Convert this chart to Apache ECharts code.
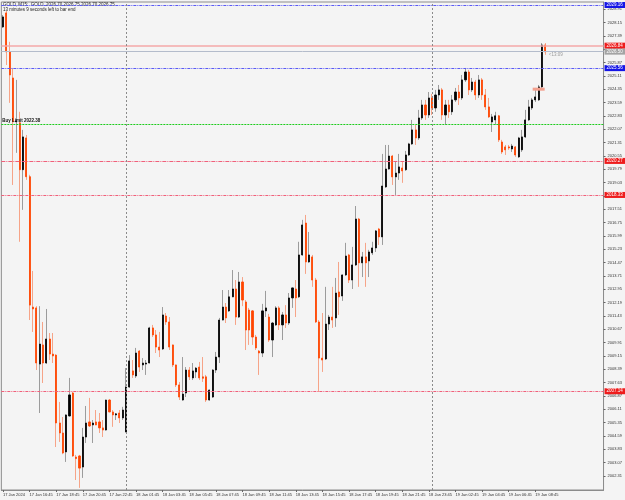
<!DOCTYPE html>
<html>
<head>
<meta charset="utf-8">
<script src="https://cdn.jsdelivr.net/npm/echarts@6/dist/echarts.min.js"></script>
<style>
html, body { margin: 0; padding: 0; background: #f4f4f4; }
#chart { width: 625px; height: 500px; }
</style>
</head>
<body>
<div id="chart"></div>
<script>
// GOLD M15, 17 Jan 14:45 .. 19 Jan 09:15
const opens = [
    2027.91, 2028.71, 2026.49, 2025.00, 2022.50, 2022.44, 2019.77, 2021.58, 2019.37, 2011.94,
    2011.89, 2008.69, 2009.78, 2008.75, 2010.12, 2009.26, 2009.20, 2005.33, 2004.76, 2003.68,
    2005.73, 2007.04, 2003.39, 2003.45, 2002.82, 2004.53, 2005.39, 2005.22, 2005.39, 2005.39,
    2005.05, 2004.93, 2006.64, 2005.96, 2005.79, 2005.90, 2005.62, 2004.82, 2007.38, 2008.30,
    2008.01, 2009.43, 2008.64, 2008.69, 2008.75, 2010.75, 2010.35, 2009.66, 2009.55, 2011.43,
    2011.09, 2009.78, 2008.64, 2007.50, 2006.64, 2007.04, 2008.35, 2007.90, 2008.24, 2008.52,
    2007.96, 2007.96, 2006.64, 2006.81, 2008.35, 2009.09, 2011.20, 2011.94, 2011.72, 2012.52,
    2012.97, 2011.37, 2013.37, 2012.23, 2011.77, 2011.72, 2010.23, 2009.43, 2009.32, 2011.72,
    2011.37, 2010.06, 2010.92, 2011.89, 2010.92, 2011.49, 2011.03, 2012.46, 2012.97, 2012.52,
    2014.91, 2016.73, 2014.51, 2014.80, 2013.48, 2011.09, 2009.03, 2008.98, 2010.97, 2011.37,
    2011.32, 2012.80, 2012.57, 2013.77, 2014.91, 2013.48, 2014.34, 2016.96, 2014.46, 2014.80,
    2014.57, 2015.03, 2015.31, 2016.39, 2015.94, 2018.79, 2019.81, 2020.55, 2019.36, 2019.58,
    2019.87, 2019.77, 2020.61, 2021.24, 2022.04, 2021.58, 2022.72, 2023.46, 2022.89, 2023.86,
    2023.29, 2024.03, 2024.32, 2022.89, 2023.46, 2023.07, 2023.75, 2024.20, 2023.86, 2024.89,
    2025.34, 2024.32, 2024.77, 2024.03, 2024.89, 2024.03, 2023.35, 2022.49, 2022.61, 2022.84,
    2021.35, 2021.07, 2021.07, 2020.95, 2021.07, 2020.50, 2020.90, 2021.64, 2022.61, 2023.29,
    2023.75, 2023.75, 2024.49, 2026.88
];
const closes = [
    2028.48, 2026.49, 2025.17, 2022.50, 2022.55, 2019.77, 2021.64, 2019.37, 2012.05, 2011.83,
    2008.75, 2009.83, 2008.75, 2010.12, 2009.26, 2009.15, 2005.33, 2004.76, 2003.62, 2005.79,
    2006.93, 2003.45, 2003.30, 2002.76, 2004.53, 2005.33, 2005.16, 2005.33, 2005.22, 2005.05,
    2004.93, 2006.64, 2005.96, 2005.79, 2005.85, 2005.62, 2006.07, 2007.38, 2008.87, 2008.07,
    2009.32, 2008.52, 2008.75, 2008.75, 2010.75, 2010.35, 2009.66, 2009.49, 2011.49, 2011.09,
    2009.66, 2008.64, 2007.50, 2006.81, 2006.98, 2008.35, 2007.96, 2008.30, 2008.46, 2007.90,
    2007.88, 2006.64, 2007.21, 2008.35, 2009.09, 2011.20, 2011.94, 2011.32, 2012.52, 2012.97,
    2011.37, 2013.37, 2012.34, 2010.63, 2010.63, 2010.23, 2009.61, 2009.32, 2011.72, 2011.89,
    2010.06, 2011.03, 2011.89, 2010.92, 2011.49, 2011.03, 2012.46, 2013.03, 2012.46, 2014.91,
    2016.62, 2014.51, 2014.91, 2013.48, 2011.09, 2009.03, 2008.92, 2010.97, 2011.37, 2011.20,
    2012.74, 2012.52, 2013.77, 2014.85, 2013.48, 2014.34, 2016.96, 2014.46, 2014.80, 2014.46,
    2015.08, 2015.31, 2016.28, 2015.94, 2018.84, 2019.81, 2020.55, 2019.36, 2019.58, 2019.93,
    2019.70, 2020.61, 2021.24, 2022.04, 2021.58, 2022.72, 2023.46, 2022.89, 2023.86, 2023.29,
    2024.03, 2024.32, 2022.89, 2023.46, 2023.07, 2023.75, 2024.20, 2023.86, 2024.89, 2025.34,
    2024.32, 2024.77, 2024.03, 2024.89, 2024.03, 2023.35, 2022.78, 2022.78, 2022.84, 2021.47,
    2020.78, 2020.90, 2021.01, 2021.12, 2020.61, 2021.58, 2021.64, 2022.61, 2023.35, 2023.75,
    2023.92, 2024.49, 2026.88, 2026.49
];
const lows = [
    2027.85, 2025.74, 2023.58, 2018.90, 2020.73, 2015.66, 2017.48, 2019.19, 2011.20, 2010.52,
    2008.35, 2005.90, 2007.61, 2008.70, 2008.92, 2008.75, 2003.96, 2004.25, 2003.55, 2003.11,
    2005.70, 2003.40, 2002.08, 2001.63, 2002.20, 2004.19, 2005.10, 2004.19, 2005.20, 2004.76,
    2004.53, 2004.90, 2005.94, 2005.11, 2005.50, 2005.33, 2005.50, 2004.80, 2007.33, 2007.90,
    2007.90, 2008.24, 2008.35, 2008.07, 2008.72, 2010.23, 2009.32, 2009.09, 2009.49, 2010.92,
    2009.49, 2008.52, 2007.38, 2006.64, 2006.60, 2006.81, 2007.78, 2007.78, 2007.90, 2007.78,
    2007.67, 2006.53, 2006.60, 2006.76, 2008.18, 2008.75, 2011.18, 2011.03, 2011.66, 2012.50,
    2010.92, 2011.32, 2011.99, 2009.49, 2009.78, 2009.78, 2009.49, 2008.07, 2009.09, 2011.37,
    2009.95, 2009.09, 2010.86, 2010.63, 2010.06, 2010.75, 2010.92, 2011.89, 2011.37, 2012.46,
    2014.86, 2013.83, 2014.46, 2013.09, 2011.03, 2007.10, 2008.24, 2008.92, 2010.63, 2010.75,
    2010.81, 2011.49, 2012.29, 2013.71, 2013.31, 2012.97, 2014.28, 2013.09, 2013.65, 2013.09,
    2013.65, 2014.91, 2015.08, 2015.48, 2015.48, 2018.73, 2019.77, 2018.90, 2018.33, 2019.19,
    2019.02, 2019.70, 2020.55, 2021.18, 2021.18, 2021.47, 2022.61, 2022.61, 2022.72, 2022.89,
    2023.07, 2023.75, 2022.61, 2022.32, 2022.72, 2022.89, 2023.63, 2023.46, 2023.75, 2024.77,
    2024.03, 2024.20, 2023.75, 2023.86, 2023.75, 2023.18, 2022.72, 2021.92, 2022.32, 2021.35,
    2020.67, 2020.61, 2020.90, 2020.78, 2020.50, 2020.44, 2020.78, 2021.58, 2022.55, 2023.18,
    2023.63, 2023.69, 2024.43, 2026.32
];
const highs = [
    2028.59, 2028.82, 2027.06, 2025.57, 2024.89, 2023.07, 2022.04, 2021.75, 2019.48, 2014.00,
    2011.99, 2011.99, 2011.09, 2011.83, 2010.46, 2010.46, 2009.25, 2006.53, 2005.67, 2005.82,
    2007.90, 2007.10, 2003.51, 2003.51, 2005.05, 2006.30, 2006.76, 2005.50, 2006.07, 2005.90,
    2005.50, 2006.66, 2006.70, 2006.07, 2005.90, 2006.07, 2006.25, 2008.46, 2009.20, 2008.92,
    2009.61, 2009.49, 2009.03, 2008.92, 2010.81, 2010.92, 2010.63, 2010.52, 2011.94, 2011.60,
    2011.37, 2009.80, 2008.66, 2007.67, 2009.09, 2008.52, 2008.52, 2008.75, 2008.52, 2008.81,
    2009.09, 2008.07, 2007.24, 2008.40, 2009.38, 2011.32, 2012.91, 2012.17, 2012.91, 2014.05,
    2013.48, 2013.94, 2013.65, 2012.34, 2011.89, 2011.77, 2010.35, 2009.49, 2012.12, 2012.86,
    2011.55, 2011.09, 2011.99, 2011.99, 2011.66, 2012.05, 2012.74, 2013.05, 2013.48, 2015.66,
    2016.91, 2017.19, 2016.22, 2014.91, 2013.60, 2011.20, 2011.60, 2013.09, 2011.49, 2013.09,
    2013.60, 2014.51, 2013.80, 2015.60, 2014.97, 2015.37, 2017.70, 2017.02, 2015.08, 2015.60,
    2015.20, 2015.66, 2016.33, 2016.45, 2020.67, 2021.18, 2021.18, 2020.61, 2020.21, 2020.67,
    2020.21, 2020.84, 2021.30, 2022.61, 2022.32, 2023.18, 2023.75, 2023.75, 2024.20, 2024.09,
    2024.32, 2024.60, 2024.43, 2023.75, 2023.75, 2024.03, 2024.43, 2024.60, 2025.17, 2025.57,
    2025.46, 2025.00, 2024.89, 2025.17, 2025.00, 2024.37, 2023.86, 2022.95, 2023.07, 2022.89,
    2021.47, 2021.18, 2021.18, 2021.24, 2021.12, 2021.64, 2022.04, 2023.18, 2023.75, 2023.86,
    2024.43, 2024.60, 2026.99, 2026.99
];

// labels under the time axis, one every 8 bars
const timeLabels = [
    "17 Jan 2024", "17 Jan 16:45", "17 Jan 18:45", "17 Jan 20:45", "17 Jan 22:45",
    "18 Jan 01:45", "18 Jan 03:45", "18 Jan 05:45", "18 Jan 07:45", "18 Jan 09:45",
    "18 Jan 11:45", "18 Jan 13:45", "18 Jan 15:45", "18 Jan 17:45", "18 Jan 19:45",
    "18 Jan 21:45", "18 Jan 23:45", "19 Jan 02:45", "19 Jan 04:45", "19 Jan 06:45",
    "19 Jan 08:45"
];

// price scale labels on the right
const priceTicks = [
    2002.31, 2003.07, 2003.83, 2004.59, 2005.35, 2006.11, 2006.87, 2007.63, 2008.39, 2009.15,
    2009.91, 2010.67, 2011.43, 2012.19, 2012.95, 2013.71, 2014.47, 2015.23, 2015.99, 2016.75,
    2017.51, 2018.27, 2019.03, 2019.79, 2020.55, 2021.31, 2022.07, 2022.83, 2023.59, 2024.35,
    2025.11, 2025.87, 2026.63, 2027.39, 2028.15, 2028.91
];

// horizontal levels drawn on the chart
const askPrice = 2026.84;
const bidPrice = 2026.50;
const blueLevels = [2029.16, 2025.56];
const buyLimit = 2022.38;
const stopLoss = 2020.27;
const redLevels = [2018.33, 2007.14];
const daySeparators = [37, 129];   // first bar of 18 Jan and 19 Jan
const orderBar = 161;
const orderPrice = 2024.36;

const totalSlots = 181;  // bars + empty chart shift on the right
const categories = [];
for (let i = 0; i < totalSlots; i++) {
    categories.push(i % 8 === 0 && i / 8 < timeLabels.length ? timeLabels[i / 8] : "");
}

const candles = opens.map((o, i) => [o, closes[i], lows[i], highs[i]]);
const bodies = opens.map((o, i) => [o, closes[i], Math.min(o, closes[i]), Math.max(o, closes[i])]);

const fontFam = "Liberation Sans, Arial, sans-serif";
const redLine = "#f0607a";

const levelLabel = (bg, text) => ({
    show: true,
    position: "end",
    distance: 1,
    formatter: text,
    color: "#fff",
    fontSize: 4.5,
    fontFamily: fontFam,
    backgroundColor: bg,
    padding: [1, 3, 0, 2]
});

const chart = echarts.init(document.getElementById("chart"));

chart.setOption({
    backgroundColor: "#f4f4f4",
    animation: false,
    grid: {
        left: 1,
        right: 21,
        top: 2,
        bottom: 10,
        show: true,
        borderColor: "#8c8c8c",
        borderWidth: 1
    },
    graphic: [
        {
            type: "text",
            left: 3,
            top: 2,
            style: {
                text: "GOLD, M15:  GOLD  2026.70 2026.75 2026.70 2026.75",
                fontSize: 4.5,
                fontFamily: fontFam,
                fill: "#222"
            }
        },
        {
            type: "text",
            left: 3,
            top: 7,
            style: {
                text: "13 minutes 9 seconds left to bar end",
                fontSize: 4.5,
                fontFamily: fontFam,
                fill: "#222"
            }
        }
    ],
    xAxis: {
        type: "category",
        data: categories,
        boundaryGap: true,
        axisLine: { show: true, lineStyle: { color: "#8c8c8c" } },
        axisTick: {
            show: true,
            alignWithLabel: true,
            length: 2,
            interval: i => i % 8 === 0 && i <= 160,
            lineStyle: { color: "#666" }
        },
        axisLabel: {
            show: true,
            interval: i => i % 8 === 0 && i <= 160,
            align: "left",
            margin: 3,
            fontSize: 4,
            fontFamily: fontFam,
            color: "#333"
        },
        splitLine: { show: false }
    },
    yAxis: {
        type: "value",
        position: "right",
        min: 2001.51,
        max: 2029.33,
        scale: true,
        axisLine: { show: true, lineStyle: { color: "#8c8c8c" } },
        axisTick: {
            show: true,
            length: 2,
            customValues: priceTicks,
            lineStyle: { color: "#666" }
        },
        axisLabel: {
            show: true,
            customValues: priceTicks,
            margin: 4,
            fontSize: 4,
            fontFamily: fontFam,
            color: "#333",
            formatter: v => v.toFixed(2)
        },
        splitLine: { show: false }
    },
    series: [
        {
            // price levels and day separators
            type: "line",
            data: [],
            silent: true,
            markLine: {
                symbol: "none",
                silent: true,
                data: [
                    {
                        yAxis: blueLevels[0],
                        lineStyle: { color: "#5a5af5", type: [3, 1, 1, 1], width: 1 },
                        label: levelLabel("#1515e6", blueLevels[0].toFixed(2))
                    },
                    {
                        yAxis: blueLevels[1],
                        lineStyle: { color: "#5a5af5", type: [3, 1, 1, 1], width: 1 },
                        label: levelLabel("#1515e6", blueLevels[1].toFixed(2))
                    },
                    {
                        yAxis: askPrice,
                        lineStyle: { color: "#f4a8a8", type: "solid", width: 1.5 },
                        label: levelLabel("#ee1c1c", askPrice.toFixed(2))
                    },
                    {
                        yAxis: bidPrice,
                        lineStyle: { color: "#b4bccb", type: "solid", width: 1 },
                        label: levelLabel("#a4a4a4", bidPrice.toFixed(2))
                    },
                    {
                        yAxis: buyLimit,
                        lineStyle: { color: "#1ecb1e", type: [2, 1], width: 1 },
                        label: {
                            show: true,
                            position: "insideStartTop",
                            distance: 1,
                            formatter: "Buy Limit " + buyLimit.toFixed(2),
                            color: "#111",
                            fontSize: 4.5,
                            fontWeight: "bold",
                            fontFamily: fontFam
                        }
                    },
                    {
                        yAxis: stopLoss,
                        lineStyle: { color: redLine, type: [4, 1, 1, 1], width: 1 },
                        label: levelLabel("#ee1c1c", stopLoss.toFixed(2))
                    },
                    {
                        yAxis: stopLoss,
                        lineStyle: { color: redLine, opacity: 0 },
                        label: {
                            show: true,
                            position: "insideStartTop",
                            distance: 1,
                            formatter: "SL",
                            color: "#777",
                            fontSize: 4.5,
                            fontFamily: fontFam
                        }
                    },
                    {
                        yAxis: redLevels[0],
                        lineStyle: { color: redLine, type: [3, 1, 1, 1], width: 1 },
                        label: levelLabel("#ee1c1c", redLevels[0].toFixed(2))
                    },
                    {
                        yAxis: redLevels[1],
                        lineStyle: { color: redLine, type: [3, 1, 1, 1], width: 1 },
                        label: levelLabel("#ee1c1c", redLevels[1].toFixed(2))
                    },
                    ...daySeparators.map(d => ({
                        xAxis: d,
                        lineStyle: { color: "#8a8a8a", type: [2, 2], width: 1 },
                        label: { show: false }
                    }))
                ]
            }
        },
        {
            // wicks
            type: "candlestick",
            data: candles,
            barWidth: 0.01,
            itemStyle: {
                color: "#9c9c9c",
                color0: "#f6a488",
                borderColor: "#9c9c9c",
                borderColor0: "#f6a488",
                borderWidth: 1
            }
        },
        {
            // bodies
            type: "candlestick",
            data: bodies,
            barWidth: 1.6,
            itemStyle: {
                color: "#000000",
                color0: "#ff4500",
                borderColor: "#000000",
                borderColor0: "#ff4500",
                borderWidth: 0.8
            },
            markPoint: {
                silent: true,
                data: [
                    {
                        coord: [orderBar, orderPrice],
                        symbol: "rect",
                        symbolSize: [12, 3],
                        itemStyle: { color: "#f3a08e" },
                        label: { show: false }
                    },
                    {
                        coord: [opens.length - 1, bidPrice],
                        symbol: "rect",
                        symbolSize: 1,
                        itemStyle: { color: "rgba(0,0,0,0)" },
                        label: {
                            show: true,
                            position: "right",
                            distance: 3,
                            offset: [0, 3],
                            formatter: "<13:09",
                            color: "#9a9a9a",
                            fontSize: 4.5,
                            fontFamily: fontFam
                        }
                    }
                ]
            }
        }
    ]
});
</script>
</body>
</html>
